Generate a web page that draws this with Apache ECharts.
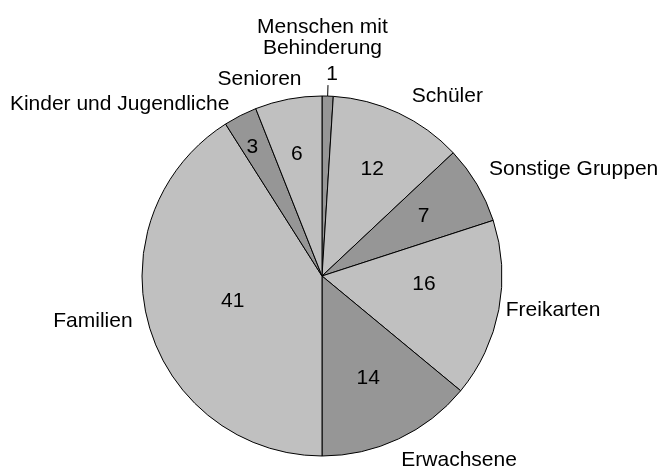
<!DOCTYPE html>
<html>
<head>
    <meta charset="UTF-8">
    <title>Besuchergruppen</title>
    <script src="https://cdn.jsdelivr.net/npm/echarts@6/dist/echarts.min.js"></script>
    <style>
        html, body { margin: 0; padding: 0; background: #fff; }
        #main { width: 664px; height: 466px; }
    </style>
</head>
<body>
<div id="main"></div>
<script type="text/javascript">
    // Daten (Anteile in %)
    var categories = ['Menschen mit Behinderung', 'Schüler', 'Sonstige Gruppen', 'Freikarten',
        'Erwachsene', 'Familien', 'Kinder und Jugendliche', 'Senioren'];
    var values = [1, 12, 7, 16, 14, 41, 3, 6];

    // Abstand der Beschriftung vom Kreisrand
    var nameGap = {
        'Menschen mit Behinderung': 58,
        'Schüler': 19,
        'Sonstige Gruppen': 14,
        'Freikarten': 2,
        'Erwachsene': 18,
        'Familien': 12,
        'Kinder und Jugendliche': 13,
        'Senioren': 20
    };
    // kleine Korrekturen der Beschriftungen [dx, dy]
    var nameShift = {
        'Senioren': [22, 0],
        'Sonstige Gruppen': [-5, -8],
        'Familien': [0, -8],
        'Erwachsene': [-10, 5]
    };
    var valueShift = {
        'Freikarten': [-14, -14],
        'Familien': [24, -8],
        'Kinder und Jugendliche': [-16, -24],
        'Senioren': [-3, -6],
        'Erwachsene': [-4, -5]
    };

    var font = { fontFamily: 'Liberation Sans, Arial, sans-serif', fontSize: 21, color: '#000' };

    var pieData = categories.map(function (c, i) {
        return { name: c, value: values[i], labelLine: { length: nameGap[c], length2: 0 } };
    });

    function shift(map) {
        return function (p) {
            var s = map[categories[p.dataIndex]];
            if (s) return { dx: s[0], dy: s[1] };
        };
    }

    var myChart = echarts.init(document.getElementById('main'));
    var option = {
        animation: false,
        backgroundColor: '#fff',
        color: ['#969696', '#c0c0c0'],
        series: [
            {
                // sichtbarer Kreis mit Namen
                type: 'pie',
                center: [322, 276],
                radius: 180,
                startAngle: 90,
                clockwise: true,
                avoidLabelOverlap: false,
                silent: true,
                itemStyle: { borderColor: '#000', borderWidth: 1 },
                label: Object.assign({
                    position: 'outside',
                    formatter: function (p) { return p.name.replace('mit ', 'mit\n'); }
                }, font),
                labelLine: { show: false },
                labelLayout: function (p) {
                    if (p.dataIndex === 0) return { align: 'center', dx: -12 };
                    return shift(nameShift)(p);
                },
                data: pieData
            },
            {
                // Werte im Inneren
                type: 'pie',
                center: [322, 276],
                radius: [0, 230],
                startAngle: 90,
                clockwise: true,
                silent: true,
                avoidLabelOverlap: false,
                itemStyle: { color: 'transparent', borderWidth: 0 },
                label: Object.assign({
                    position: 'inner',
                    formatter: function (p) { return p.dataIndex === 0 ? '' : p.value; }
                }, font),
                labelLine: { show: false },
                labelLayout: shift(valueShift),
                data: categories.map(function (c, i) { return { name: c, value: values[i] }; })
            },
            {
                // kleiner Wert mit Führungslinie
                type: 'pie',
                center: [322, 276],
                radius: 180,
                startAngle: 90,
                clockwise: true,
                silent: true,
                avoidLabelOverlap: false,
                itemStyle: { color: 'transparent', borderWidth: 0 },
                label: Object.assign({
                    position: 'outside',
                    distanceToLabelLine: 0,
                    formatter: function (p) { return p.dataIndex === 0 ? p.value : ''; }
                }, font),
                labelLine: { show: true, length: 11, length2: 0, lineStyle: { color: '#000', width: 1 } },
                labelLayout: function (p) {
                    if (p.dataIndex === 0) return { align: 'center', verticalAlign: 'bottom', dx: 4 };
                },
                data: categories.map(function (c, i) {
                    return { name: c, value: values[i], labelLine: { show: i === 0 } };
                })
            }
        ]
    };
    myChart.setOption(option);
</script>
</body>
</html>
